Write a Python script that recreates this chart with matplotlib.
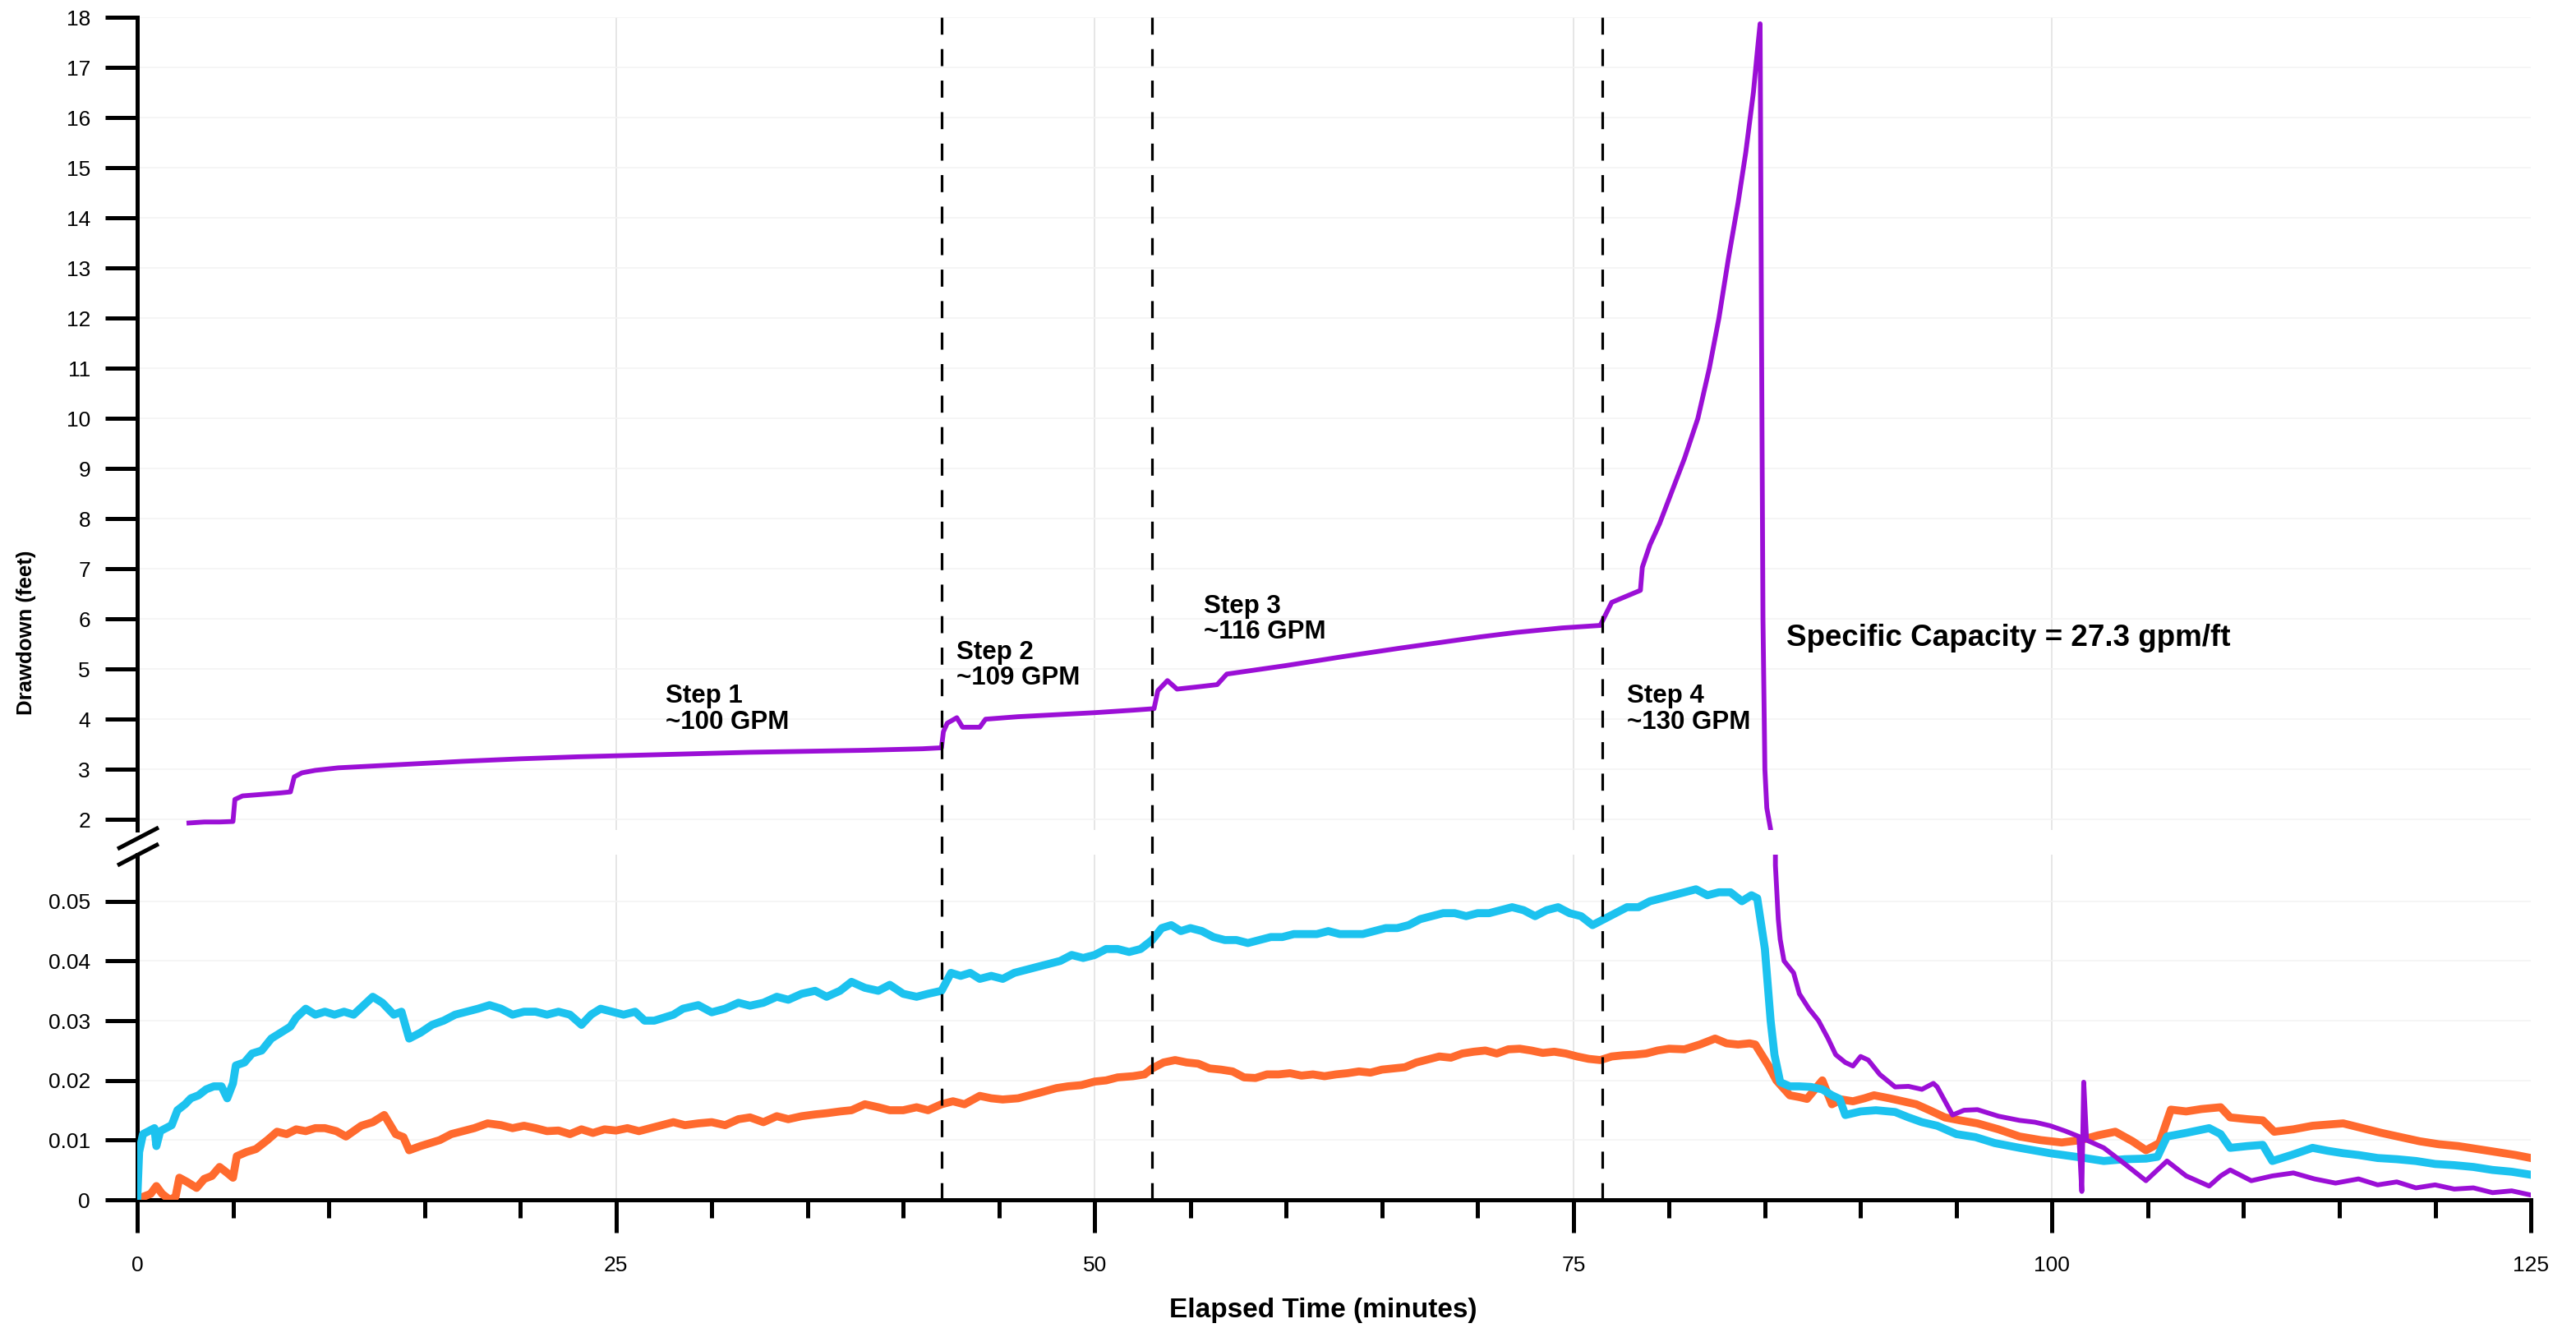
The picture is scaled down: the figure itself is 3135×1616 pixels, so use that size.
import matplotlib
matplotlib.use("Agg")
import matplotlib.pyplot as plt
from matplotlib.lines import Line2D
from matplotlib.transforms import blended_transform_factory
from matplotlib.ticker import MultipleLocator, FixedLocator, FixedFormatter

plt.rcParams['font.family'] = ['Liberation Sans', 'DejaVu Sans']

# ---------------- data ----------------
cyan_t = [0.0, 0.1, 0.3, 0.6, 0.9, 1.0, 1.2, 1.5, 1.8, 2.1, 2.5, 2.8, 3.2, 3.6, 4.0, 4.4, 4.7, 5.0,
          5.15, 5.6, 6.0, 6.5, 7.0, 7.5, 8.0, 8.3, 8.8, 9.3, 9.8, 10.3, 10.8, 11.3, 11.8, 12.3, 12.8,
          13.4, 13.8, 14.2, 14.8, 15.4, 16.0, 16.6, 17.2, 17.8, 18.4, 19.0, 19.6, 20.2, 20.8, 21.4,
          22.0, 22.6, 23.2, 23.7, 24.2, 24.8, 25.4, 26.0, 26.5, 27.0, 27.5, 28.0, 28.5, 29.3, 30.0,
          30.7, 31.4, 32.0, 32.7, 33.4, 34.0, 34.7, 35.4, 36.0, 36.7, 37.3, 38.0, 38.7, 39.3, 40.0,
          40.7, 41.3, 42.0, 42.5, 43.0, 43.5, 44.0, 44.6, 45.2, 45.8, 46.4, 47.0, 47.6, 48.2, 48.8,
          49.4, 50.0, 50.6, 51.2, 51.8, 52.4, 53.0, 53.5, 54.0, 54.5, 55.0, 55.6, 56.2, 56.8, 57.4,
          58.0, 58.6, 59.2, 59.8, 60.4, 61.0, 61.6, 62.2, 62.8, 63.4, 64.0, 64.6, 65.2, 65.8, 66.4,
          67.0, 67.6, 68.2, 68.8, 69.4, 70.0, 70.6, 71.2, 71.8, 72.4, 73.0, 73.6, 74.2, 74.8, 75.4,
          76.0, 76.6, 77.2, 77.8, 78.4, 79.0, 79.6, 80.2, 80.8, 81.4, 82.0, 82.6, 83.2, 83.8, 84.3,
          84.6, 85.0, 85.3, 85.5, 85.8, 86.3, 86.8, 87.4, 88.0, 88.5, 88.9, 89.2, 90.0, 90.8, 91.8,
          92.5, 93.2, 94.0, 95.0, 96.0, 97.0, 98.3, 99.2, 99.9, 100.8, 101.7, 102.7, 103.8, 104.9,
          105.5, 106.0, 107.0, 108.2, 108.8, 109.3, 110.2, 111.0, 111.5, 112.5, 113.6, 114.4, 115.2,
          116.0, 117.0, 118.0, 119.0, 120.0, 121.0, 122.0, 123.0, 124.0, 125.0]
cyan_v = [0.000, 0.008, 0.011, 0.0115, 0.012, 0.009, 0.0115, 0.012, 0.0125, 0.015, 0.016, 0.017,
          0.0175, 0.0185, 0.019, 0.019, 0.017, 0.0195, 0.0225, 0.023, 0.0245, 0.025, 0.027, 0.028,
          0.029, 0.0305, 0.032, 0.031, 0.0315, 0.031, 0.0315, 0.031, 0.0325, 0.034, 0.033, 0.031,
          0.0315, 0.027, 0.028, 0.0293, 0.030, 0.031, 0.0315, 0.032, 0.0326, 0.032, 0.031, 0.0315,
          0.0315, 0.031, 0.0315, 0.031, 0.0293, 0.031, 0.032, 0.0315, 0.031, 0.0315, 0.030, 0.030,
          0.0305, 0.031, 0.032, 0.0326, 0.0314, 0.032, 0.033, 0.0325, 0.033, 0.034, 0.0335, 0.0345,
          0.035, 0.034, 0.035, 0.0365, 0.0355, 0.035, 0.036, 0.0345, 0.034, 0.0345, 0.035, 0.038,
          0.0375, 0.038, 0.037, 0.0375, 0.037, 0.038, 0.0385, 0.039, 0.0395, 0.040, 0.041, 0.0405,
          0.041, 0.042, 0.042, 0.0415, 0.042, 0.0435, 0.0455, 0.046, 0.045, 0.0455, 0.045, 0.044,
          0.0435, 0.0435, 0.043, 0.0435, 0.044, 0.044, 0.0445, 0.0445, 0.0445, 0.045, 0.0445,
          0.0445, 0.0445, 0.045, 0.0455, 0.0455, 0.046, 0.047, 0.0475, 0.048, 0.048, 0.0475, 0.048,
          0.048, 0.0485, 0.049, 0.0485, 0.0475, 0.0485, 0.049, 0.048, 0.0475, 0.046, 0.047, 0.048,
          0.049, 0.049, 0.050, 0.0505, 0.051, 0.0515, 0.052, 0.051, 0.0515, 0.0515, 0.050, 0.051,
          0.0505, 0.042, 0.030, 0.0243, 0.0197, 0.019, 0.019, 0.0189, 0.0185, 0.0175, 0.0169,
          0.0142, 0.0148, 0.015, 0.0147, 0.0138, 0.013, 0.0124, 0.011, 0.0105, 0.0095, 0.0087,
          0.0082, 0.0078, 0.0074, 0.007, 0.0065, 0.0068, 0.0069, 0.0072, 0.0106, 0.0112, 0.012,
          0.011, 0.0087, 0.009, 0.0092, 0.0065, 0.0075, 0.0087, 0.0082, 0.0078, 0.0075, 0.007,
          0.0068, 0.0065, 0.006, 0.0058, 0.0055, 0.005, 0.0047, 0.0042]

orange_t = [0.0, 0.3, 0.7, 1.0, 1.3, 1.7, 2.0, 2.2, 2.6, 3.1, 3.5, 3.9, 4.3, 4.7, 5.0, 5.2, 5.7, 6.2,
            6.8, 7.3, 7.8, 8.3, 8.8, 9.3, 9.8, 10.4, 10.9, 11.3, 11.7, 12.3, 12.9, 13.5, 13.9, 14.2,
            14.8, 15.3, 15.8, 16.4, 17.0, 17.6, 18.3, 19.0, 19.6, 20.2, 20.8, 21.4, 22.0, 22.6, 23.2,
            23.8, 24.4, 25.0, 25.6, 26.2, 26.8, 27.4, 28.0, 28.6, 29.3, 30.0, 30.7, 31.4, 32.0, 32.7,
            33.4, 34.0, 34.7, 35.4, 36.0, 36.7, 37.3, 38.0, 38.7, 39.3, 40.0, 40.7, 41.3, 42.0, 42.6,
            43.2, 44.0, 44.6, 45.2, 46.0, 46.6, 47.2, 48.0, 48.6, 49.3, 50.0, 50.6, 51.2, 52.0, 52.6,
            53.0, 53.6, 54.2, 54.8, 55.4, 56.0, 56.6, 57.2, 57.8, 58.4, 59.0, 59.6, 60.2, 60.8, 61.4,
            62.0, 62.6, 63.2, 63.8, 64.4, 65.0, 65.6, 66.2, 66.8, 67.4, 68.0, 68.6, 69.2, 69.8, 70.4,
            71.0, 71.6, 72.2, 72.8, 73.4, 74.0, 74.6, 75.2, 75.8, 76.4, 77.0, 77.6, 78.2, 78.8, 79.4,
            80.0, 80.8, 81.6, 82.4, 83.0, 83.6, 84.2, 84.5, 85.2, 85.6, 86.3, 86.8, 87.2, 88.0, 88.5,
            89.0, 89.6, 90.2, 90.7, 91.5, 92.2, 92.9, 93.6, 94.4, 95.2, 96.1, 97.2, 98.3, 99.4, 100.5,
            101.5, 102.4, 103.3, 104.2, 104.9, 105.6, 106.2, 107.0, 107.8, 108.8, 109.3, 110.2,
            111.0, 111.6, 112.6, 113.6, 114.4, 115.2, 116.2, 117.2, 118.2, 119.2, 120.2, 121.2,
            122.2, 123.2, 124.2, 125.0]
orange_v = [0.000, 0.0005, 0.001, 0.0023, 0.001, 0.000, 0.0005, 0.0037, 0.003, 0.002, 0.0035,
            0.004, 0.0055, 0.0045, 0.0037, 0.0073, 0.008, 0.0085, 0.010, 0.0114, 0.011, 0.0118,
            0.0115, 0.012, 0.012, 0.0115, 0.0106, 0.0115, 0.0124, 0.013, 0.0142, 0.011, 0.0105,
            0.0083, 0.009, 0.0095, 0.010, 0.011, 0.0115, 0.012, 0.0128, 0.0125, 0.012, 0.0124,
            0.012, 0.0115, 0.0116, 0.011, 0.0118, 0.0112, 0.0118, 0.0116, 0.012, 0.0115, 0.012,
            0.0125, 0.013, 0.0125, 0.0128, 0.013, 0.0125, 0.0135, 0.0138, 0.013, 0.014, 0.0135,
            0.014, 0.0143, 0.0145, 0.0148, 0.015, 0.016, 0.0155, 0.015, 0.015, 0.0155, 0.015, 0.016,
            0.0165, 0.016, 0.0174, 0.017, 0.0168, 0.017, 0.0175, 0.018, 0.0187, 0.019, 0.0192,
            0.0198, 0.020, 0.0205, 0.0207, 0.021, 0.022, 0.023, 0.0234, 0.023, 0.0228, 0.022,
            0.0218, 0.0215, 0.0205, 0.0204, 0.021, 0.021, 0.0212, 0.0208, 0.021, 0.0207, 0.021,
            0.0212, 0.0215, 0.0213, 0.0218, 0.022, 0.0222, 0.023, 0.0235, 0.024, 0.0238, 0.0245,
            0.0248, 0.025, 0.0245, 0.0252, 0.0253, 0.025, 0.0246, 0.0248, 0.0245, 0.024, 0.0236,
            0.0234, 0.024, 0.0242, 0.0243, 0.0245, 0.025, 0.0253, 0.0252, 0.026, 0.027, 0.0262,
            0.026, 0.0262, 0.026, 0.0224, 0.020, 0.0175, 0.0172, 0.0169, 0.020, 0.016, 0.0168,
            0.0165, 0.017, 0.0175, 0.017, 0.0165, 0.016, 0.015, 0.0138, 0.0133, 0.0128, 0.0118,
            0.0106, 0.010, 0.0096, 0.010, 0.0108, 0.0114, 0.0098, 0.0083, 0.0095, 0.0151, 0.0148,
            0.0152, 0.0155, 0.0138, 0.0135, 0.0133, 0.0114, 0.0118, 0.0124, 0.0126, 0.0128, 0.012,
            0.0112, 0.0105, 0.0098, 0.0093, 0.009, 0.0085, 0.008, 0.0075, 0.007]

purple_t = [2.7, 3.5, 4.3, 5.0, 5.1, 5.5, 6.5, 7.5, 8.0, 8.2, 8.6, 9.3, 10.5, 12.0, 14.0, 17.0, 20.0,
            23.0, 26.0, 29.0, 32.0, 35.0, 38.0, 41.0, 42.0, 42.1, 42.3, 42.8, 43.1, 44.0, 44.3, 46.0,
            48.0, 50.0, 52.0, 53.1, 53.3, 53.8, 54.3, 55.5, 56.4, 56.9, 60.0, 63.0, 66.0, 70.1, 72.0,
            74.4, 76.4, 76.7, 77.0, 78.5, 78.6, 79.0, 79.5, 80.1, 80.8, 81.5, 82.1, 82.6, 83.1, 83.6,
            84.0, 84.4, 84.6, 84.75, 84.82, 84.9, 85.0, 85.1, 85.3, 85.55, 85.7, 85.8, 86.0, 86.5,
            86.8, 87.3, 87.8, 88.3, 88.7, 89.2, 89.6, 90.0, 90.4, 91.0, 91.8, 92.5, 93.2, 93.8, 94.0,
            94.8, 95.4, 96.1, 97.2, 98.3, 99.1, 99.9, 100.7, 101.4, 101.55, 101.65, 101.8, 102.7,
            103.8, 104.9, 105.5, 106.0, 107.0, 108.2, 108.8, 109.3, 110.4, 111.5, 112.6, 113.7,
            114.8, 116.0, 117.0, 118.0, 119.0, 120.0, 121.0, 122.0, 123.0, 124.0, 125.0]
purple_v = [1.93, 1.95, 1.95, 1.96, 2.40, 2.47, 2.50, 2.53, 2.55, 2.85, 2.93, 2.98, 3.03, 3.06, 3.10,
            3.16, 3.21, 3.25, 3.28, 3.31, 3.34, 3.36, 3.38, 3.41, 3.43, 3.75, 3.92, 4.03, 3.84, 3.84,
            4.00, 4.05, 4.09, 4.13, 4.18, 4.21, 4.57, 4.77, 4.60, 4.65, 4.69, 4.90, 5.07, 5.25, 5.42,
            5.64, 5.73, 5.82, 5.87, 6.10, 6.33, 6.57, 7.03, 7.48, 7.9, 8.5, 9.2, 10.0, 11.0, 12.0,
            13.2, 14.3, 15.3, 16.5, 17.3, 17.87, 12.0, 6.0, 3.0, 2.23, 1.8, 0.056, 0.047, 0.0436,
            0.040, 0.038, 0.0345, 0.032, 0.030, 0.027, 0.0243, 0.023, 0.0224, 0.024, 0.0234, 0.021,
            0.0189, 0.019, 0.0185, 0.0195, 0.0189, 0.0142, 0.015, 0.0151, 0.014, 0.0133, 0.013,
            0.0124, 0.0115, 0.0106, 0.0014, 0.0197, 0.010, 0.0087, 0.006, 0.0032, 0.005, 0.0065,
            0.004, 0.0023, 0.004, 0.005, 0.0032, 0.004, 0.0045, 0.0035, 0.0028, 0.0035, 0.0025,
            0.003, 0.002, 0.0025, 0.0018, 0.002, 0.0012, 0.0015, 0.0008]

step_times = [42.0, 53.0, 76.5]
step_labels = ["Step 1\n~100 GPM", "Step 2\n~109 GPM", "Step 3\n~116 GPM", "Step 4\n~130 GPM"]
step_label_x = [27.6, 42.8, 55.7, 77.8]
step_label_y = [4.2, 5.08, 6.0, 4.2]
capacity_text = "Specific Capacity = 27.3 gpm/ft"
upper_ticks = list(range(2, 19))
lower_ticks = [0, 0.01, 0.02, 0.03, 0.04, 0.05]
lower_ticklabels = ["0", "0.01", "0.02", "0.03", "0.04", "0.05"]
x_ticks = [0, 25, 50, 75, 100, 125]

PURPLE = '#9b0fd6'
CYAN = '#1cc2ef'
ORANGE = '#ff6a2e'

# ---------------- figure ----------------
fig = plt.figure(figsize=(31.35, 16.16), dpi=100)
L, W = 0.05327, 0.9292
ax_up = fig.add_axes([L, 0.3750, W, 0.6120])
ax_lo = fig.add_axes([L, 0.09653, W, 0.25991])

for ax in (ax_up, ax_lo):
    ax.set_xlim(0, 125)
    ax.spines['top'].set_visible(False)
    ax.spines['right'].set_visible(False)
    ax.spines['left'].set_linewidth(3.6)
    ax.spines['bottom'].set_linewidth(3.6)
    ax.set_axisbelow(True)
    for xv in [25, 50, 75, 100]:
        ax.axvline(xv, color='#e4e4e4', lw=1.3, zorder=0)

ax_up.set_ylim(1.79, 18)
ax_lo.set_ylim(0, 0.0578)

ax_up.spines['bottom'].set_visible(False)
ax_up.tick_params(axis='x', which='both', bottom=False, labelbottom=False)
ax_up.yaxis.set_major_locator(FixedLocator(upper_ticks))
for yv in upper_ticks:
    ax_up.axhline(yv, color='#f3f3f3', lw=1.2, zorder=0)
for yv in lower_ticks[1:]:
    ax_lo.axhline(yv, color='#f3f3f3', lw=1.2, zorder=0)

ax_lo.yaxis.set_major_locator(FixedLocator(lower_ticks))
ax_lo.yaxis.set_major_formatter(FixedFormatter(lower_ticklabels))
ax_lo.xaxis.set_major_locator(FixedLocator(x_ticks))
ax_lo.xaxis.set_minor_locator(MultipleLocator(5))

for ax in (ax_up, ax_lo):
    ax.tick_params(axis='y', which='major', direction='out', length=28, width=3.6,
                   labelsize=19, pad=13, colors='black')
ax_lo.tick_params(axis='x', which='major', direction='out', length=29, width=3.6,
                  labelsize=19, pad=20)
ax_lo.tick_params(axis='x', which='minor', direction='out', length=16, width=3.6)

# data lines
for ax in (ax_up, ax_lo):
    ax.plot(orange_t, orange_v, color=ORANGE, lw=7.0, zorder=3, solid_joinstyle='round')
    ax.plot(cyan_t, cyan_v, color=CYAN, lw=7.0, zorder=4, solid_joinstyle='round')
    ax.plot(purple_t, purple_v, color=PURPLE, lw=4.2, zorder=5, solid_joinstyle='round')

# dashed step lines spanning both panels
tr = blended_transform_factory(ax_lo.transData, fig.transFigure)
for st in step_times:
    fig.add_artist(Line2D([st, st], [0.09653, 0.987], transform=tr, color='black',
                          lw=2.3, dashes=(6.5, 5.5), zorder=6))

# annotations
for lab, xx, yy in zip(step_labels, step_label_x, step_label_y):
    ax_up.text(xx, yy, lab, ha='left', va='center', fontsize=22.5, fontweight='bold',
               linespacing=1.05, zorder=7)
ax_up.text(86.1, 5.62, capacity_text, ha='left', va='center', fontsize=26.5,
           fontweight='bold', zorder=7)

# axis labels
fig.text(0.0102, 0.5235, "Drawdown (feet)", rotation=90, ha='center', va='center',
         fontsize=18.5, fontweight='bold')
fig.text(0.5136, 0.0136, "Elapsed Time (minutes)", ha='center', va='center',
         fontsize=24, fontweight='bold')

# axis break marks
for dy in (0.0, 20.0):
    x0, x1 = 143 / 3135, 193 / 3135
    y0, y1 = 1 - (1033 + dy) / 1616, 1 - (1007 + dy) / 1616
    fig.add_artist(Line2D([x0, x1], [y0, y1], transform=fig.transFigure, color='black',
                          lw=3.6, solid_capstyle='butt'))

fig.savefig("out.png", dpi=100, facecolor='white')
